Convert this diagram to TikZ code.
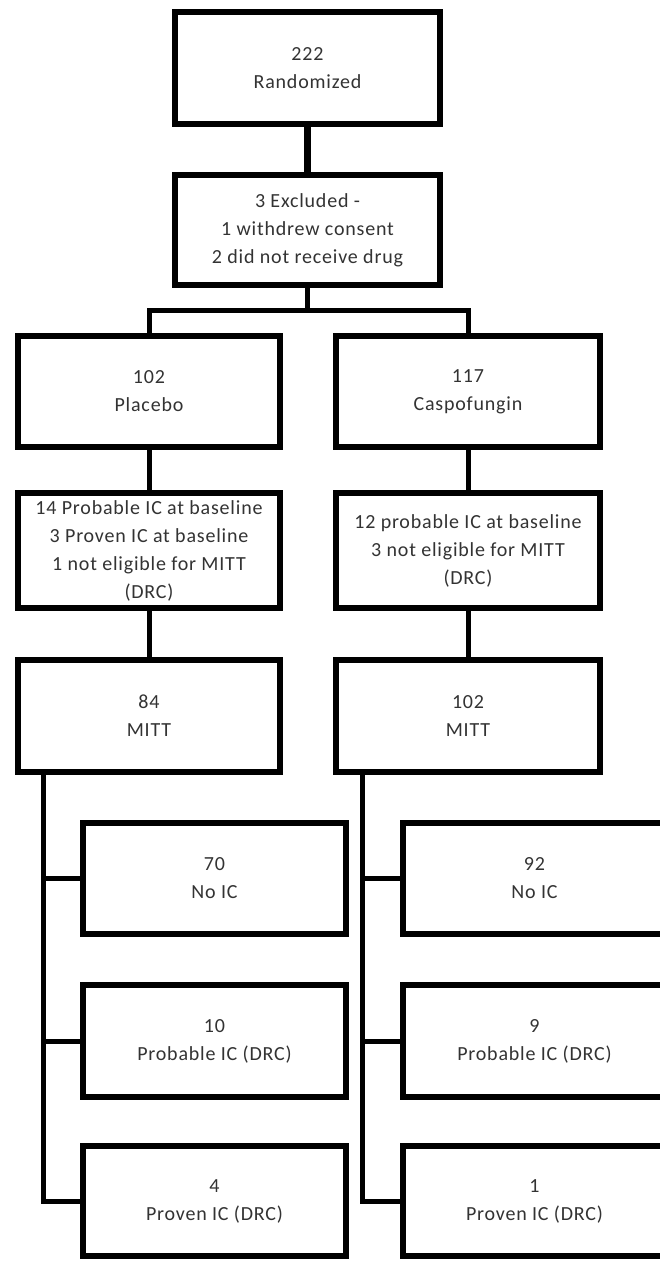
\documentclass[tikz,border=0pt]{standalone}
\usepackage{fontspec}
\setmainfont{Carlito}[LetterSpace=4]
\begin{document}
\begin{tikzpicture}[x=1pt,y=-1pt,
  box/.style={draw=black, line width=5.5pt, fill=white, rectangle, inner sep=0pt,
    align=center, text=black!80,
    font=\fontsize{20}{28}\selectfont},
  link/.style={draw=black, line width=5pt},
  toplink/.style={draw=black, line width=6.5pt}]
\clip (0,0) rectangle (660,1261);
\fill[white] (0,0) rectangle (660,1261);

% top of the flow
\node[box, minimum width=265pt, minimum height=112pt] (rand) at (307.5,68) {222\\Randomized};
\node[box, minimum width=265pt, minimum height=110pt] (excl) at (307.5,230)
  {3 Excluded -\\1 withdrew consent\\2 did not receive drug};

% treatment arms
\node[box, minimum width=262pt, minimum height=111pt] (plac) at (149,391.5) {102\\Placebo};
\node[box, minimum width=264pt, minimum height=111pt] (casp) at (468,391.5) {117\\Caspofungin};

\node[box, minimum width=262pt, minimum height=115pt] (placx) at (149,550.5)
  {14 Probable IC at baseline\\3 Proven IC at baseline\\1 not eligible for MITT\\(DRC)};
\node[box, minimum width=264pt, minimum height=115pt] (caspx) at (468,550.5)
  {12 probable IC at baseline\\3 not eligible for MITT\\(DRC)};

\node[box, minimum width=262pt, minimum height=112pt] (mittA) at (149,716) {84\\MITT};
\node[box, minimum width=264pt, minimum height=112pt] (mittB) at (468,716) {102\\MITT};

% outcomes, placebo arm
\node[box, minimum width=263pt, minimum height=111pt] (noA) at (214.5,878.5) {70\\No IC};
\node[box, minimum width=263pt, minimum height=112pt] (probA) at (214.5,1041) {10\\Probable IC (DRC)};
\node[box, minimum width=263pt, minimum height=110pt] (provA) at (214.5,1201) {4\\Proven IC (DRC)};

% outcomes, caspofungin arm
\node[box, minimum width=263pt, minimum height=111pt] (noB) at (534.5,878.5) {92\\No IC};
\node[box, minimum width=263pt, minimum height=112pt] (probB) at (534.5,1041) {9\\Probable IC (DRC)};
\node[box, minimum width=263pt, minimum height=110pt] (provB) at (534.5,1201) {1\\Proven IC (DRC)};

% connectors
\draw[toplink] (rand.south) -- (excl.north);
\coordinate (split) at (307.5,310);
\draw[link] (excl.south) -- (split);
\draw[link] (split) -| (plac.north);
\draw[link] (split) -| (casp.north);
\draw[link] (plac.south) -- (placx.north);
\draw[link] (casp.south) -- (caspx.north);
\draw[link] (placx.south) -- (mittA.north);
\draw[link] (caspx.south) -- (mittB.north);

% trunks feeding the outcome boxes
\coordinate (trunkA) at (43,772);
\coordinate (trunkB) at (362,772);
\draw[link] (trunkA) |- (provA.west);
\draw[link] (trunkA) |- (noA.west);
\draw[link] (trunkA) |- (probA.west);
\draw[link] (trunkB) |- (provB.west);
\draw[link] (trunkB) |- (noB.west);
\draw[link] (trunkB) |- (probB.west);
\end{tikzpicture}
\end{document}
